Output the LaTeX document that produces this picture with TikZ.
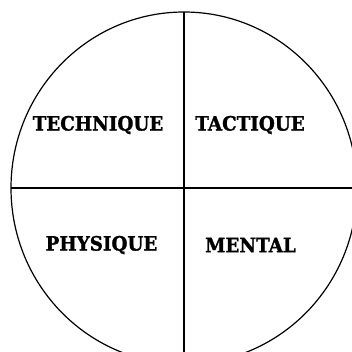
\documentclass[tikz,border=0pt]{standalone}
\usepackage{fontspec}
\setmainfont{DejaVu Serif}
\newfontfamily\lblfont{DejaVu Serif}[UprightFont={* Bold},FakeBold=1.5]
\begin{document}
\begin{tikzpicture}[x=1pt,y=-1pt,
  lbl/.style={font=\lblfont\fontsize{18.3}{20}\selectfont, inner sep=0pt, anchor=center, yscale=1.08},
  ln/.style={line width=1.2pt, black}]
\useasboundingbox (0,0) rectangle (352,351);
\clip (0,0) rectangle (352,351);
\fill[white] (0,0) rectangle (352,351);
\coordinate (c) at (184,188);
\draw[ln] (c) ellipse [x radius=173, y radius=176];
\coordinate (top) at (184,12);
\coordinate (bot) at (184,360);
\coordinate (lft) at (11,188);
\coordinate (rgt) at (360,188);
\draw[ln] (top) -- (bot);
\draw[ln] (lft) -- (rgt);
\node[lbl] (tech) at (98,125) {TECHNIQUE};
\node[lbl] (tact) at (250,125) {TACTIQUE};
\node[lbl] (phys) at (101.5,245) {PHYSIQUE};
\node[lbl] (ment) at (250.5,245) {MENTAL};
\end{tikzpicture}
\end{document}
